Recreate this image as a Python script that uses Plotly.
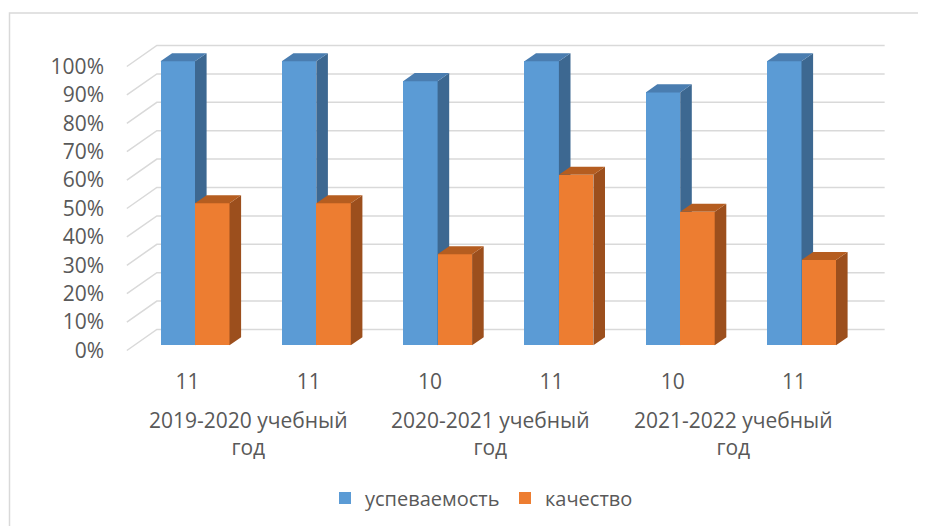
import plotly.graph_objects as go

# ---------------- data ----------------
class_labels = ["11", "11", "10", "11", "10", "11"]
year_labels = ["2019-2020 учебный год", "2020-2021 учебный год", "2021-2022 учебный год"]
series_names = ["успеваемость", "качество"]
uspevaemost = [100, 100, 93, 100, 89, 100]
kachestvo = [50, 50, 32, 60, 47, 30]
y_ticks = [0, 10, 20, 30, 40, 50, 60, 70, 80, 90, 100]
y_tick_labels = [f"{t}%" for t in y_ticks]

# ---------------- geometry / style ----------------
OFF = 8                       # page body margin of the html page
W, H = 926 - OFF, 526 - OFF   # figure size
# plot area in page pixels
PL, PR, PT, PB = 108, 900, 30, 360
ML, MR, MT, MB = PL - OFF, W - (PR - OFF), PT - OFF, H - (PB - OFF)
PW, PH = PR - PL, PB - PT
PX = 121.3          # px per category unit
K = 2.84            # px per percent
X0_PX = 187.5       # page px of category 0 (label plane)
Y0_PX = 350.5       # page px of 0% (label plane)
SLOPE = 0.7         # vertical px per depth px

def depth(d):
    return d / PX, SLOPE * d / K

def px2x(p):
    return (p - X0_PX) / PX

def px2y(p):
    return (Y0_PX - p) / K

def py2paper(p):
    return (PB - p) / PH

def px2paper(p):
    return (p - PL) / PW

x_range = [px2x(PL), px2x(PR)]
y_range = [px2y(PB), px2y(PT)]

FRONT_D, BAR_D, WALL_D = 7.5, 11.6, 30.0
BAR_W = 34.5 / PX
fx, fy = depth(FRONT_D)
bx, by = depth(BAR_D)
wx, wy = depth(WALL_D)

colors = {
    0: dict(front="#5B9BD5", side="#3D6891", top="#4A7DB0"),
    1: dict(front="#ED7D31", side="#9C4F1D", top="#B55D20"),
}
TXT = "#595959"
FONT = "Open Sans"
GRID = "#D9D9D9"

fig = go.Figure()

all_series = [uspevaemost, kachestvo]
for s, vals in enumerate(all_series):
    xa = "x" if s == 0 else "x2"
    ya = "y" if s == 0 else "y2"
    c = colors[s]
    lefts = [i + fx - BAR_W if s == 0 else i + fx for i in range(len(vals))]
    # front faces
    fig.add_trace(go.Bar(
        x=[l + BAR_W / 2 for l in lefts], y=vals, base=fy, width=BAR_W,
        marker=dict(color=c["front"], line=dict(width=0)),
        name=series_names[s], xaxis=xa, yaxis=ya, hoverinfo="skip",
    ))
    # side and top faces
    sx, sy, tx, ty = [], [], [], []
    for l, v in zip(lefts, vals):
        r = l + BAR_W
        top = fy + v
        sx += [r, r + bx, r + bx, r, r, None]
        sy += [fy, fy + by, top + by, top, fy, None]
        tx += [l, l + bx, r + bx, r, l, None]
        ty += [top, top + by, top + by, top, top, None]
    for px_, py_, col in ((sx, sy, c["side"]), (tx, ty, c["top"])):
        fig.add_trace(go.Scatter(
            x=px_, y=py_, mode="none", fill="toself", fillcolor=col,
            xaxis=xa, yaxis=ya, showlegend=False, hoverinfo="skip",
        ))

# gridlines (floor diagonal + back wall)
shapes = []
x_left, x_right = -0.5, len(class_labels) - 0.5
for t in y_ticks:
    path = (f"M{x_left},{t} L{x_left + wx},{t + wy} L{x_right + wx},{t + wy}")
    shapes.append(dict(type="path", path=path, xref="x", yref="y", layer="below",
                       line=dict(color=GRID, width=1.5)))
# chart frame
shapes.append(dict(type="rect", xref="paper", yref="paper",
                   x0=px2paper(9.5), x1=px2paper(935),
                   y0=py2paper(540), y1=py2paper(13),
                   line=dict(color=GRID, width=1.5), layer="below"))

# year group labels
annotations = []
for g, lab in enumerate(year_labels):
    first, second = lab.rsplit(" ", 1)
    xc = 2 * g + 0.5
    annotations.append(dict(x=xc, y=py2paper(434), xref="x", yref="paper",
                            text=f"{first}<br>{second}",
                            showarrow=False, xanchor="center", yanchor="middle",
                            font=dict(family=FONT, size=21, color=TXT)))

fig.update_layout(
    width=W, height=H,
    margin=dict(l=ML, r=MR, t=MT, b=MB, autoexpand=False),
    paper_bgcolor="white", plot_bgcolor="white",
    barmode="overlay", bargap=0,
    shapes=shapes, annotations=annotations,
    xaxis=dict(range=x_range, tickvals=list(range(len(class_labels))), ticktext=class_labels,
               showgrid=False, zeroline=False, showline=False, ticks="",
               tickfont=dict(family=FONT, size=21, color=TXT), ticklabelstandoff=7,
               fixedrange=True, automargin=False),
    yaxis=dict(range=y_range, tickvals=y_ticks, ticktext=y_tick_labels,
               showgrid=False, zeroline=False, showline=False, ticks="",
               tickfont=dict(family=FONT, size=21, color=TXT), fixedrange=True,
               ticklabelstandoff=3, automargin=False),
    xaxis2=dict(range=x_range, overlaying="x", visible=False, fixedrange=True),
    yaxis2=dict(range=y_range, overlaying="y", visible=False, fixedrange=True),
    legend=dict(orientation="h", xref="container", yref="container",
                x=(325 - OFF) / W, xanchor="left", y=1 - (498 - OFF) / H, yanchor="middle",
                font=dict(family=FONT, size=20, color=TXT),
                entrywidth=135, entrywidthmode="pixels", traceorder="normal"),
    showlegend=True,
)

fig.write_html("out.html")
